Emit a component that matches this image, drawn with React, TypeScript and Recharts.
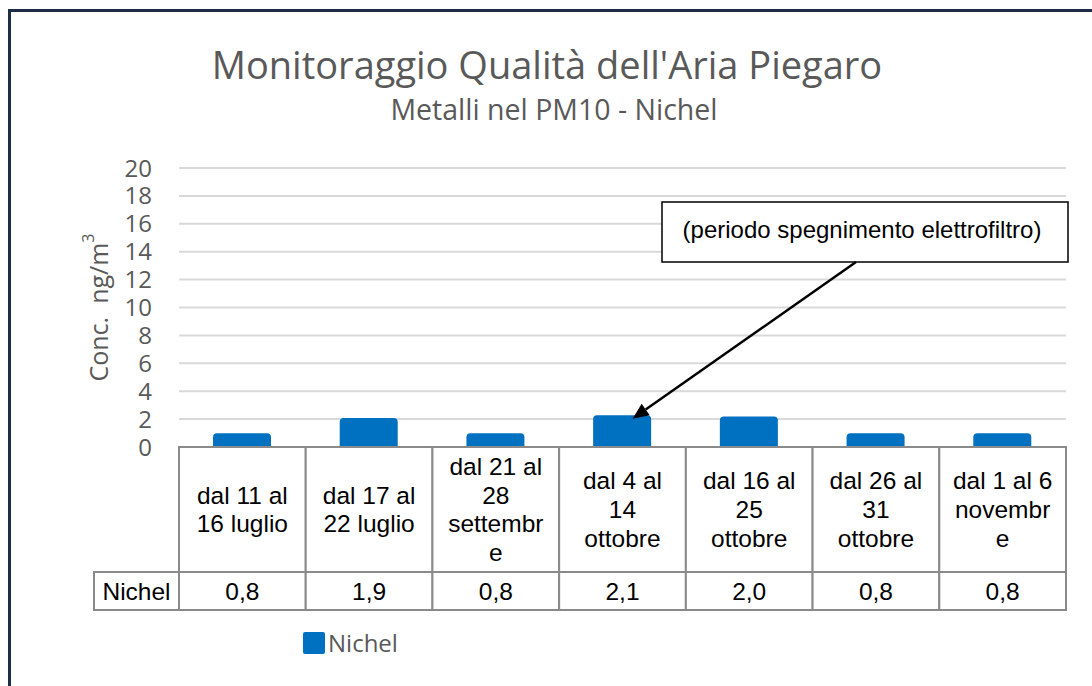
import React from 'react';
import { BarChart, Bar, XAxis, YAxis, CartesianGrid, Legend } from 'recharts';

// ---------- data ----------
const categories = [
  'dal 11 al 16 luglio',
  'dal 17 al 22 luglio',
  'dal 21 al 28 settembre',
  'dal 4 al 14 ottobre',
  'dal 16 al 25 ottobre',
  'dal 26 al 31 ottobre',
  'dal 1 al 6 novembre',
];
const categoryLines = [
  ['dal 11 al', '16 luglio'],
  ['dal 17 al', '22 luglio'],
  ['dal 21 al', '28', 'settembr', 'e'],
  ['dal 4 al', '14', 'ottobre'],
  ['dal 16 al', '25', 'ottobre'],
  ['dal 26 al', '31', 'ottobre'],
  ['dal 1 al 6', 'novembr', 'e'],
];
const nichelValues = [0.8, 1.9, 0.8, 2.1, 2.0, 0.8, 0.8];
const valueLabels = ['0,8', '1,9', '0,8', '2,1', '2,0', '0,8', '0,8'];
const yTicks = [0, 2, 4, 6, 8, 10, 12, 14, 16, 18, 20];
const seriesName = 'Nichel';
const titleText = "Monitoraggio Qualità dell'Aria Piegaro";
const subtitleText = 'Metalli nel PM10 - Nichel';
const annotationText = '(periodo spegnimento elettrofiltro)';
const highlightIndex = 3;

const data = categories.map((c, i) => ({ name: c, value: nichelValues[i] }));

// ---------- layout ----------
const W = 1092;
const H = 686;
const PLOT_LEFT = 179;
const PLOT_RIGHT = 1066;
const PLOT_TOP = 168;
const CAT_ROW_H = 125;
const VAL_ROW_H = 38;
const X_AXIS_H = CAT_ROW_H + VAL_ROW_H;
const TABLE_BOTTOM = 610;
const Y_AXIS_W = 80;
const HEADER_W = 85;
const BAND = (PLOT_RIGHT - PLOT_LEFT) / categories.length;

const BAR_COLOR = '#0070C0';
const GRID_COLOR = '#D9D9D9';
const TABLE_COLOR = '#8A8A8A';
const TEXT_GRAY = '#595959';
const SANS = "'Open Sans', 'Noto Sans', sans-serif";
const ARIAL = "'Liberation Sans', Arial, sans-serif";

const BOX = { x: 662, y: 202, w: 406, h: 60, anchorX: 856 };

const TableTick = (props: any) => {
  const { x, y, payload } = props;
  const idx = payload.index;
  const band = payload.offset ? payload.offset * 2 : BAND;
  const x0 = x - band / 2;
  const lines = categoryLines[idx];
  const lh = 28.7;
  const cy = y + CAT_ROW_H / 2;
  return (
    <g>
      <rect x={x0} y={y} width={band} height={CAT_ROW_H} fill="#fff" stroke={TABLE_COLOR} strokeWidth={2} />
      {lines.map((l, i) => (
        <text
          key={i}
          x={x}
          y={cy + (i - (lines.length - 1) / 2) * lh}
          textAnchor="middle"
          dominantBaseline="central"
          fontFamily={ARIAL}
          fontSize={24.5}
          fill="#000"
        >
          {l}
        </text>
      ))}
      <rect x={x0} y={y + CAT_ROW_H} width={band} height={VAL_ROW_H} fill="#fff" stroke={TABLE_COLOR} strokeWidth={2} />
      <text
        x={x}
        y={y + CAT_ROW_H + VAL_ROW_H / 2}
        textAnchor="middle"
        dominantBaseline="central"
        fontFamily={ARIAL}
        fontSize={24.5}
        fill="#000"
      >
        {valueLabels[idx]}
      </text>
      {idx === 0 && (
        <g>
          <rect x={x0 - HEADER_W} y={y + CAT_ROW_H} width={HEADER_W} height={VAL_ROW_H} fill="#fff" stroke={TABLE_COLOR} strokeWidth={2} />
          <text
            x={x0 - HEADER_W / 2}
            y={y + CAT_ROW_H + VAL_ROW_H / 2}
            textAnchor="middle"
            dominantBaseline="central"
            fontFamily={ARIAL}
            fontSize={24.5}
            fill="#000"
          >
            {seriesName}
          </text>
        </g>
      )}
    </g>
  );
};

const Annotation = ({ tipX, tipY }: { tipX: number; tipY: number }) => {
  const sx = BOX.anchorX;
  const sy = BOX.y + BOX.h;
  const dx = tipX - sx;
  const dy = tipY - sy;
  const len = Math.sqrt(dx * dx + dy * dy);
  const ux = dx / len;
  const uy = dy / len;
  const headL = 16;
  const headW = 7;
  const bx = tipX - ux * headL;
  const by = tipY - uy * headL;
  const p1 = `${tipX},${tipY}`;
  const p2 = `${bx - uy * headW},${by + ux * headW}`;
  const p3 = `${bx + uy * headW},${by - ux * headW}`;
  return (
    <g>
      <rect x={BOX.x} y={BOX.y} width={BOX.w} height={BOX.h} fill="#fff" stroke="#000" strokeWidth={1.5} />
      <text
        x={BOX.x + BOX.w / 2 - 3}
        y={BOX.y + 27}
        textAnchor="middle"
        dominantBaseline="central"
        fontFamily={ARIAL}
        fontSize={24}
        fill="#000"
      >
        {annotationText}
      </text>
      <line x1={sx} y1={sy} x2={bx} y2={by} stroke="#000" strokeWidth={2.5} />
      <polygon points={`${p1} ${p2} ${p3}`} fill="#000" />
    </g>
  );
};

const BarShape = (props: any) => {
  const { x, y, width, height, index } = props;
  const r = 4;
  const top = y - 2.5;
  const bottom = y + height + 2.5;
  const d = `M${x},${bottom} L${x},${top + r} Q${x},${top} ${x + r},${top} L${x + width - r},${top} Q${x + width},${top} ${x + width},${top + r} L${x + width},${bottom} Z`;
  return (
    <g>
      <path d={d} fill={BAR_COLOR} />
      {index === highlightIndex && <Annotation tipX={x + width * 0.68} tipY={y + 1} />}
    </g>
  );
};

const YLabel = (props: any) => {
  const vb = props.viewBox || { x: 99, y: PLOT_TOP, width: Y_AXIS_W, height: 279 };
  const cx = vb.x - 1;
  const cy = vb.y + vb.height / 2;
  return (
    <text
      x={cx}
      y={cy}
      transform={`rotate(-90, ${cx}, ${cy})`}
      textAnchor="middle"
      dominantBaseline="central"
      fontFamily={SANS}
      fontSize={25}
      fill={TEXT_GRAY}
    >
      <tspan>{'Conc.\u00A0\u00A0ng/m'}</tspan>
      <tspan fontSize={16} dy={-10}>3</tspan>
    </text>
  );
};

const LegendContent = () => (
  <div style={{ display: 'flex', alignItems: 'center' }}>
    <div style={{ width: 22, height: 22, background: BAR_COLOR, borderRadius: 2 }} />
    <span style={{ marginLeft: 3, fontFamily: SANS, fontSize: 24, color: TEXT_GRAY, lineHeight: '22px' }}>
      {seriesName}
    </span>
  </div>
);

export default function App() {
  return (
    <div
      style={{
        position: 'absolute',
        left: 0,
        top: 0,
        width: W,
        height: H,
        overflow: 'hidden',
        background: '#fff',
      }}
    >
      <div
        style={{
          position: 'absolute',
          left: 8,
          top: 9,
          width: 1300,
          height: 900,
          borderTop: '3px solid #1D2D45',
          borderLeft: '3px solid #1D2D45',
        }}
      />
      <div
        style={{
          position: 'absolute',
          left: 0,
          width: W,
          top: 41,
          textAlign: 'center',
          fontFamily: SANS,
          fontSize: 38,
          color: TEXT_GRAY,
          lineHeight: '46px',
          whiteSpace: 'nowrap',
          paddingLeft: 1,
        }}
      >
        {titleText}
      </div>
      <div
        style={{
          position: 'absolute',
          left: 8,
          width: W,
          top: 93,
          textAlign: 'center',
          fontFamily: SANS,
          fontSize: 28.5,
          color: TEXT_GRAY,
          lineHeight: '32px',
          whiteSpace: 'nowrap',
        }}
      >
        {subtitleText}
      </div>
      <div style={{ position: 'absolute', left: 0, top: 0 }}>
        <BarChart
          width={W}
          height={H}
          data={data}
          margin={{ top: PLOT_TOP, right: W - PLOT_RIGHT, bottom: H - TABLE_BOTTOM, left: PLOT_LEFT - Y_AXIS_W }}
          barSize={58}
        >
          <CartesianGrid vertical={false} stroke={GRID_COLOR} strokeWidth={2} />
          <XAxis
            dataKey="name"
            height={X_AXIS_H}
            interval={0}
            tickLine={false}
            tickSize={0}
            tickMargin={0}
            axisLine={{ stroke: TABLE_COLOR, strokeWidth: 2 }}
            tick={<TableTick />}
          />
          <YAxis
            width={Y_AXIS_W}
            domain={[0, 20]}
            ticks={yTicks}
            interval={0}
            axisLine={false}
            tickLine={false}
            tickSize={0}
            tickMargin={27}
            tick={{ fill: TEXT_GRAY, fontSize: 24, fontFamily: SANS }}
            label={<YLabel />}
          />
          <Legend
            layout="horizontal"
            verticalAlign="middle"
            align="center"
            wrapperStyle={{ position: 'absolute', left: 303, top: 632, width: 'auto', height: 'auto' }}
            content={<LegendContent />}
          />
          <Bar dataKey="value" name={seriesName} fill={BAR_COLOR} isAnimationActive={false} shape={<BarShape />} />
        </BarChart>
      </div>
    </div>
  );
}
